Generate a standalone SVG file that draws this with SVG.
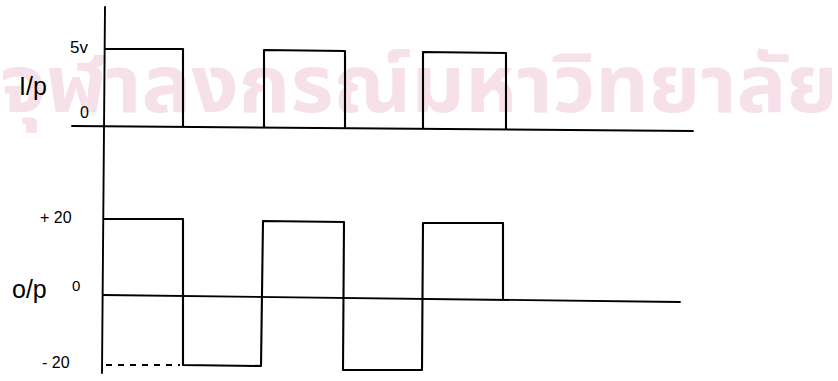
<svg xmlns="http://www.w3.org/2000/svg" width="838" height="381" viewBox="0 0 838 381">
<style>
.wm{fill:#f6e0ea;font-family:"Noto Sans Thai","Noto Sans","DejaVu Sans",sans-serif;font-weight:700;}
.ax{fill:none;stroke:#000;stroke-width:1.9;stroke-linecap:round;stroke-linejoin:round;}
.wv{fill:none;stroke:#000;stroke-width:2.1;stroke-linejoin:round;}
.dash{fill:none;stroke:#000;stroke-width:1.8;stroke-dasharray:6 6;}
.lb{font-family:"Liberation Sans",Arial,sans-serif;fill:#000;}
</style>
<rect width="838" height="381" fill="#fff"/>
<g id="watermark">
<text class="wm" x="0" y="112" font-size="80" textLength="838" lengthAdjust="spacingAndGlyphs">จุฬาลงกรณ์มหาวิทยาลัย</text>
</g>
<g id="axes">
<path class="ax" d="M105,7 L102,373"/>
<path class="ax" d="M72,126 L693,131"/>
<path class="ax" d="M103,295 L680,302"/>
<path class="dash" d="M106,365 L180,365"/>
</g>
<g id="input-wave">
<path class="wv" d="M105,49 L183,49 L183,127"/>
<path class="wv" d="M264,128 L264,50 L345,51 L345,128"/>
<path class="wv" d="M423,129 L423,52 L506,53 L506,129"/>
</g>
<g id="output-wave">
<path class="wv" d="M104,219 L183,219 L183,365 L261,366 L263,221 L344,222 L343,370 L422,370 L423,223 L503,223 L503,299"/>
</g>
<g id="labels">
<text class="lb" x="70" y="53" font-size="17">5v</text>
<text class="lb" x="19" y="95" font-size="25">I/p</text>
<text class="lb" x="80" y="118" font-size="16">0</text>
<text class="lb" x="40" y="223" font-size="16">+ 20</text>
<text class="lb" x="12" y="298" font-size="25">o/p</text>
<text class="lb" x="72" y="291" font-size="15">0</text>
<text class="lb" x="42" y="368" font-size="16">- 20</text>
</g>
</svg>
